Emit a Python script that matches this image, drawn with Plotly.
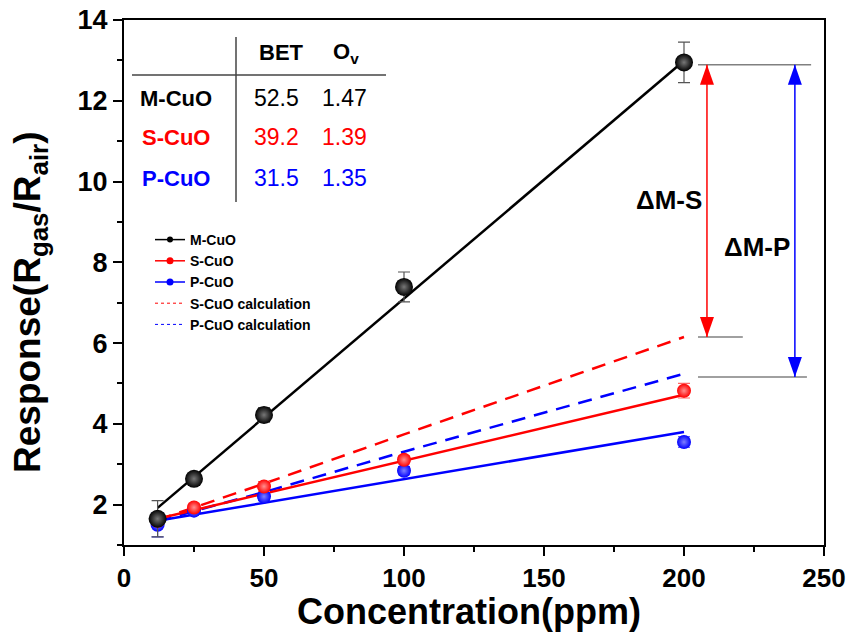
import plotly.graph_objects as go

# ---------------- data ----------------
conc = [12, 25, 50, 100, 200]
m_resp = [1.65, 2.64, 4.22, 7.39, 12.95]
m_err = [0.45, 0.10, 0.18, 0.37, 0.50]
s_resp = [1.60, 1.93, 2.45, 3.11, 4.82]
s_err = [0.10, 0.08, 0.12, 0.10, 0.18]
p_resp = [1.50, 1.85, 2.20, 2.84, 3.55]
p_err = [0.30, 0.08, 0.10, 0.10, 0.13]
s_calc = [1.62, 1.93, 2.52, 3.74, 6.15]
p_calc = [1.58, 1.84, 2.31, 3.31, 5.24]

fit_x = [12, 200]
m_fit = [1.92, 12.99]
s_fit = [1.65, 4.72]
p_fit = [1.60, 3.80]

table_cols = ["BET", "O<sub>v</sub>"]
table_rows = ["M-CuO", "S-CuO", "P-CuO"]
bet = ["52.5", "39.2", "31.5"]
ov = ["1.47", "1.39", "1.35"]
row_colors = ["black", "red", "blue"]

delta_top = 12.89
delta_s = 6.15
delta_p = 5.16
arrow_s_x = 208.2
arrow_p_x = 239.6
ref_x0 = 205
ref_top_x1 = 245.4
ref_s_x1 = 221
ref_p_x1 = 243.9

# ---------------- layout helpers ----------------
L, R, T, B = 124, 824, 20, 545
W, H = 857, 639


def px(x):
    return (x - L) / (R - L)


def py(y):
    return (B - y) / (B - T)


FONT = "Liberation Sans, Arial, sans-serif"
RED = "#ff0000"
BLUE = "#0000ff"

fig = go.Figure()

# calculation (dashed) lines
fig.add_trace(go.Scatter(x=conc, y=s_calc, mode="lines", showlegend=False,
                         line=dict(color=RED, width=2.5, dash="14px,9px")))
fig.add_trace(go.Scatter(x=conc, y=p_calc, mode="lines", showlegend=False,
                         line=dict(color=BLUE, width=2.5, dash="14px,9px")))
# fit lines
fig.add_trace(go.Scatter(x=fit_x, y=m_fit, mode="lines", showlegend=False,
                         line=dict(color="black", width=2.5)))
fig.add_trace(go.Scatter(x=fit_x, y=p_fit, mode="lines", showlegend=False,
                         line=dict(color=BLUE, width=2.5)))
fig.add_trace(go.Scatter(x=fit_x, y=s_fit, mode="lines", showlegend=False,
                         line=dict(color=RED, width=2.5)))


def points(y, err, color, grad, size, ecolor):
    return go.Scatter(
        x=conc, y=y, mode="markers", showlegend=False,
        marker=dict(color=color, size=size, line=dict(width=0),
                    gradient=dict(type="radial", color=grad)),
        error_y=dict(type="data", array=err, visible=True, color=ecolor,
                     thickness=1.2, width=6),
    )


fig.add_trace(points(p_resp, p_err, BLUE, "#8080ff", 14, "#3333ff"))
fig.add_trace(points(s_resp, s_err, RED, "#ff9090", 14, "#ff6666"))
fig.add_trace(points(m_resp, m_err, "black", "#777777", 18, "#555555"))

# legend entries
fig.add_trace(go.Scatter(x=[None], y=[None], mode="lines+markers", name="M-CuO",
                         line=dict(color="black", width=1.5),
                         marker=dict(color="black", size=6)))
fig.add_trace(go.Scatter(x=[None], y=[None], mode="lines+markers", name="S-CuO",
                         line=dict(color=RED, width=1.5),
                         marker=dict(color=RED, size=7)))
fig.add_trace(go.Scatter(x=[None], y=[None], mode="lines+markers", name="P-CuO",
                         line=dict(color=BLUE, width=1.5),
                         marker=dict(color=BLUE, size=7)))
fig.add_trace(go.Scatter(x=[None], y=[None], mode="lines", name="S-CuO calculation",
                         line=dict(color=RED, width=1, dash="3px,3px")))
fig.add_trace(go.Scatter(x=[None], y=[None], mode="lines", name="P-CuO calculation",
                         line=dict(color=BLUE, width=1, dash="3px,3px")))

shapes = []
annos = []

# table lines
shapes.append(dict(type="line", xref="paper", yref="paper", x0=px(236), x1=px(236),
                   y0=py(37), y1=py(202), line=dict(color="#444444", width=1.5)))
shapes.append(dict(type="line", xref="paper", yref="paper", x0=px(132), x1=px(386),
                   y0=py(75), y1=py(75), line=dict(color="#444444", width=1.5)))

col_x = [281, 346]
col_x_vals = [276, 344]
for cx, txt, yy in zip(col_x, table_cols, [53, 53]):
    annos.append(dict(xref="paper", yref="paper", x=px(cx), y=py(yy), text=txt,
                      showarrow=False, xanchor="center", yanchor="middle",
                      font=dict(family=FONT, size=22, color="black", weight="bold")))
row_y = [98, 137, 178]
for name, b, o, c, yy in zip(table_rows, bet, ov, row_colors, row_y):
    annos.append(dict(xref="paper", yref="paper", x=px(176), y=py(yy), text=name,
                      showarrow=False, xanchor="center", yanchor="middle",
                      font=dict(family=FONT, size=22, color=c, weight="bold")))
    for cx, v in zip(col_x_vals, [b, o]):
        annos.append(dict(xref="paper", yref="paper", x=px(cx), y=py(yy), text=v,
                          showarrow=False, xanchor="center", yanchor="middle",
                          font=dict(family=FONT, size=23, color=c)))

# reference gray lines
for y0, x1 in [(delta_top, ref_top_x1), (delta_s, ref_s_x1), (delta_p, ref_p_x1)]:
    shapes.append(dict(type="line", xref="x", yref="y", x0=ref_x0, x1=x1, y0=y0, y1=y0,
                       line=dict(color="#808080", width=1.5)))

# double arrows
for ax_x, ybot, col in [(arrow_s_x, delta_s, RED), (arrow_p_x, delta_p, BLUE)]:
    shapes.append(dict(type="line", xref="x", yref="y", x0=ax_x, x1=ax_x,
                       y0=delta_top, y1=ybot, line=dict(color=col, width=1.5)))
    shapes.append(dict(type="path", xref="x", yref="y", xsizemode="pixel", ysizemode="pixel",
                       xanchor=ax_x, yanchor=delta_top, path="M0,0 L-7,-20 L7,-20 Z",
                       fillcolor=col, line=dict(width=0)))
    shapes.append(dict(type="path", xref="x", yref="y", xsizemode="pixel", ysizemode="pixel",
                       xanchor=ax_x, yanchor=ybot, path="M0,0 L-7,20 L7,20 Z",
                       fillcolor=col, line=dict(width=0)))

annos.append(dict(xref="paper", yref="paper", x=px(704), y=py(200), text="ΔM-S",
                  showarrow=False, xanchor="right", yanchor="middle",
                  font=dict(family=FONT, size=26, color="black", weight="bold")))
annos.append(dict(xref="paper", yref="paper", x=px(757), y=py(247), text="ΔM-P",
                  showarrow=False, xanchor="center", yanchor="middle",
                  font=dict(family=FONT, size=26, color="black", weight="bold")))

# axis titles
annos.append(dict(xref="paper", yref="paper", x=px(30), y=py(302),
                  text="Response(R<sub>gas</sub>/R<sub>air</sub>)", textangle=-90,
                  showarrow=False, xanchor="center", yanchor="middle",
                  font=dict(family=FONT, size=37, color="black", weight="bold")))
annos.append(dict(xref="paper", yref="paper", x=px(469), y=py(611),
                  text="Concentration(ppm)",
                  showarrow=False, xanchor="center", yanchor="middle",
                  font=dict(family=FONT, size=36, color="black", weight="bold")))

fig.update_layout(
    width=W, height=H,
    margin=dict(l=L, r=W - R, t=T, b=H - B),
    paper_bgcolor="white", plot_bgcolor="white",
    shapes=shapes, annotations=annos,
    legend=dict(x=px(150), y=py(224), xanchor="left", yanchor="top",
                bgcolor="rgba(0,0,0,0)", tracegroupgap=0, itemwidth=30,
                font=dict(family=FONT, size=14, color="black", weight="bold")),
    xaxis=dict(range=[0, 250], tickvals=[0, 50, 100, 150, 200, 250], automargin=False,
               showline=True, linecolor="black", linewidth=2, mirror=True,
               ticks="outside", ticklen=9, tickwidth=2, tickcolor="black",
               minor=dict(dtick=25, ticks="outside", ticklen=5, tickwidth=2, tickcolor="black"),
               showgrid=False, zeroline=False,
               tickfont=dict(family=FONT, size=26, color="black", weight="bold")),
    yaxis=dict(range=[1, 14], tickvals=[2, 4, 6, 8, 10, 12, 14], automargin=False,
               showline=True, linecolor="black", linewidth=2, mirror=True,
               ticks="outside", ticklen=9, tickwidth=2, tickcolor="black",
               minor=dict(dtick=1, ticks="outside", ticklen=5, tickwidth=2, tickcolor="black"),
               showgrid=False, zeroline=False,
               tickfont=dict(family=FONT, size=27, color="black", weight="bold")),
)

fig.write_html("out.html")
